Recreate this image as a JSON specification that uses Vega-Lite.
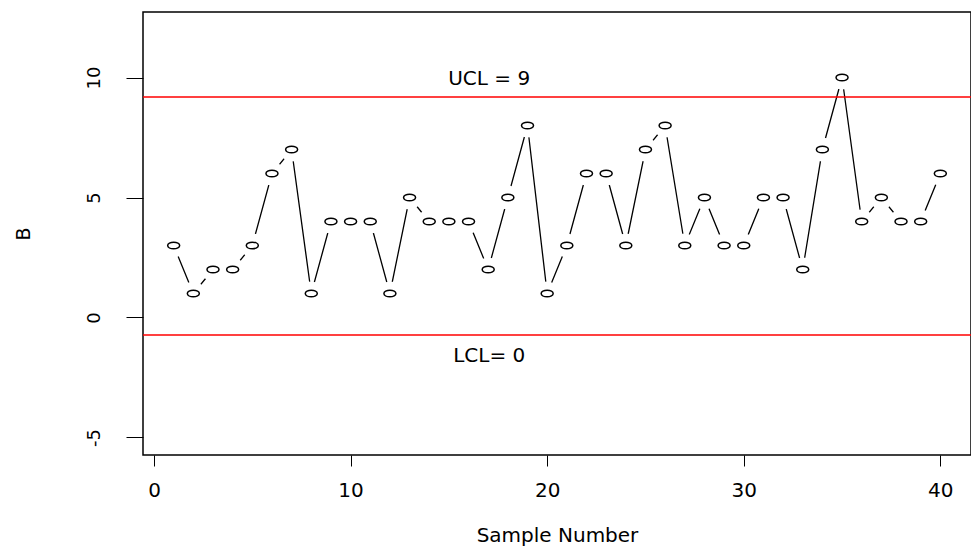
{
  "$schema": "https://vega.github.io/schema/vega-lite/v6.json",
  "width": 828,
  "height": 443,
  "autosize": {"type": "none"},
  "padding": {"left": 143, "top": 12, "right": 0, "bottom": 93},
  "background": "white",
  "config": {
    "view": {"stroke": "black", "strokeWidth": 1.5},
    "font": "DejaVu Sans"
  },
  "datasets": {
    "pts": [
      {"s": 1, "b": 3}, {"s": 2, "b": 1}, {"s": 3, "b": 2}, {"s": 4, "b": 2}, {"s": 5, "b": 3},
      {"s": 6, "b": 6}, {"s": 7, "b": 7}, {"s": 8, "b": 1}, {"s": 9, "b": 4}, {"s": 10, "b": 4},
      {"s": 11, "b": 4}, {"s": 12, "b": 1}, {"s": 13, "b": 5}, {"s": 14, "b": 4}, {"s": 15, "b": 4},
      {"s": 16, "b": 4}, {"s": 17, "b": 2}, {"s": 18, "b": 5}, {"s": 19, "b": 8}, {"s": 20, "b": 1},
      {"s": 21, "b": 3}, {"s": 22, "b": 6}, {"s": 23, "b": 6}, {"s": 24, "b": 3}, {"s": 25, "b": 7},
      {"s": 26, "b": 8}, {"s": 27, "b": 3}, {"s": 28, "b": 5}, {"s": 29, "b": 3}, {"s": 30, "b": 3},
      {"s": 31, "b": 5}, {"s": 32, "b": 5}, {"s": 33, "b": 2}, {"s": 34, "b": 7}, {"s": 35, "b": 10},
      {"s": 36, "b": 4}, {"s": 37, "b": 5}, {"s": 38, "b": 4}, {"s": 39, "b": 4}, {"s": 40, "b": 6}
    ],
    "limits": [
      {"name": "UCL", "y": 9.19, "lx": 17.05, "ly": 9.94, "label": "UCL = 9"},
      {"name": "LCL", "y": -0.73, "lx": 17.05, "ly": -1.62, "label": "LCL= 0"}
    ]
  },
  "layer": [
    {
      "data": {"name": "pts"},
      "mark": {"type": "line", "color": "black", "strokeWidth": 1.3},
      "encoding": {
        "x": {
          "field": "s", "type": "quantitative",
          "scale": {"domain": [-0.56, 41.56], "nice": false, "zero": false},
          "axis": {
            "values": [0, 10, 20, 30, 40],
            "domain": false, "grid": false,
            "tickSize": 11, "tickColor": "black", "tickWidth": 1,
            "labelFont": "DejaVu Sans", "labelFontSize": 20, "labelColor": "black",
            "labelBaseline": "middle", "labelPadding": 24,
            "title": "Sample Number", "titleFont": "DejaVu Sans", "titleFontSize": 20,
            "titleFontWeight": "normal", "titleColor": "black",
            "titleY": 80, "titleBaseline": "middle"
          }
        },
        "y": {
          "field": "b", "type": "quantitative",
          "scale": {"domain": [-5.73, 12.73], "nice": false, "zero": false},
          "axis": {
            "values": [-5, 0, 5, 10],
            "labelExpr": "'' + datum.value",
            "domain": false, "grid": false,
            "tickSize": 17, "tickColor": "black", "tickWidth": 1,
            "labelFont": "DejaVu Sans", "labelFontSize": 18, "labelColor": "black",
            "labelAngle": 270, "labelAlign": "center", "labelBaseline": "middle",
            "labelPadding": 32,
            "title": "B", "titleFont": "DejaVu Sans", "titleFontSize": 19,
            "titleFontWeight": "normal", "titleColor": "black",
            "titleAngle": 270, "titleX": -120, "titleBaseline": "middle"
          }
        }
      }
    },
    {
      "data": {"name": "pts"},
      "mark": {"type": "point", "shape": "circle", "filled": true, "fill": "white", "opacity": 1, "strokeWidth": 0, "size": 576},
      "encoding": {
        "x": {"field": "s", "type": "quantitative"},
        "y": {"field": "b", "type": "quantitative"}
      }
    },
    {
      "data": {"name": "pts"},
      "mark": {
        "type": "point",
        "shape": "M -1 0 C -1 -0.304 -0.552 -0.55 0 -0.55 C 0.552 -0.55 1 -0.304 1 0 C 1 0.304 0.552 0.55 0 0.55 C -0.552 0.55 -1 0.304 -1 0 Z",
        "filled": false, "stroke": "black", "strokeWidth": 1.5, "opacity": 1, "size": 144
      },
      "encoding": {
        "x": {"field": "s", "type": "quantitative"},
        "y": {"field": "b", "type": "quantitative"}
      }
    },
    {
      "data": {"name": "limits"},
      "mark": {"type": "rule", "color": "#ff0000", "strokeWidth": 1.5},
      "encoding": {
        "y": {"field": "y", "type": "quantitative"}
      }
    },
    {
      "data": {"name": "limits"},
      "mark": {"type": "text", "font": "DejaVu Sans", "fontSize": 20, "color": "black", "align": "center", "baseline": "middle"},
      "encoding": {
        "x": {"field": "lx", "type": "quantitative"},
        "y": {"field": "ly", "type": "quantitative"},
        "text": {"field": "label", "type": "nominal"}
      }
    }
  ]
}
